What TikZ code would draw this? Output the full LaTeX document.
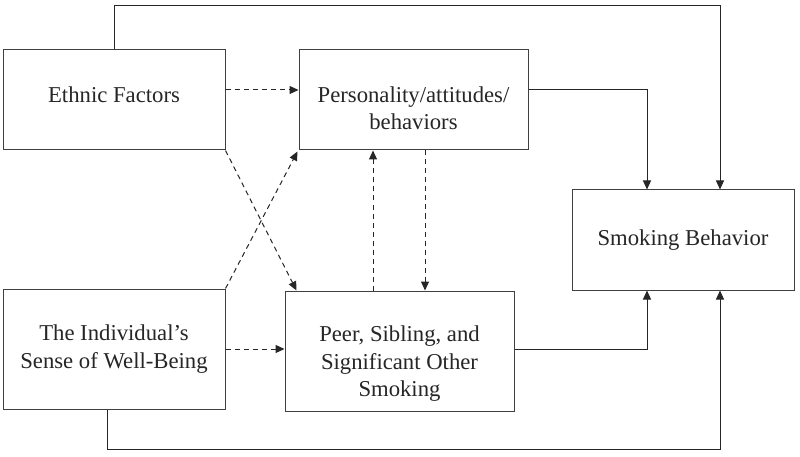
\documentclass[tikz,border=0pt]{standalone}
\usepackage{fontspec}
\setmainfont{Liberation Serif}
\usetikzlibrary{arrows.meta,calc}
\begin{document}
\begin{tikzpicture}[x=1pt,y=-1pt,
  box/.style={draw=black!75, line width=1pt, rectangle, inner sep=0pt},
  txt/.style={align=center, inner sep=0pt, font=\fontsize{22.7}{27.5}\selectfont, text=black!85},
  solidarrow/.style={draw=black!85, line width=1pt, -{Triangle[length=9pt,width=8pt]}},
  dasharrow/.style={solidarrow, dash pattern=on 5pt off 4pt}]
\useasboundingbox (0,0) rectangle (800,457);
\fill[white] (0,0) rectangle (800,457);
% boxes
\node[box, minimum width=222pt, minimum height=100pt] (eth) at (114,100) {};
\node[box, minimum width=229pt, minimum height=100pt] (per) at (413.5,100) {};
\node[box, minimum width=222pt, minimum height=100pt] (smk) at (683,240) {};
\node[box, minimum width=222pt, minimum height=120pt] (ind) at (114,349) {};
\node[box, minimum width=229pt, minimum height=120pt] (peer) at (399.5,351) {};
% texts
\node[txt] (ethT) at (114,95) {Ethnic Factors};
\node[txt] (perT) at (413.5,108) {Personality/attitudes/\\behaviors};
\node[txt] (smkT) at (683,240) {Smoking Behavior};
\node[txt] (indT) at (114,349) {The Individual's\\Sense of Well-Being};
\node[txt] (peerT) at (399.5,364) {Peer, Sibling, and\\Significant Other\\Smoking};
% solid connectors
\draw[solidarrow] (eth.north) -- ++(0,-44) -| ([xshift=37pt]smk.north);
\draw[solidarrow] ([yshift=10pt]per.east) -| ([xshift=-36pt]smk.north);
\draw[solidarrow] ([yshift=2pt]peer.east) -| ([xshift=-36pt]smk.south);
\draw[solidarrow] ([xshift=-7pt]ind.south) -- ++(0,40) -| ([xshift=37pt]smk.south);
% dashed connectors
\draw[dasharrow] ([yshift=10pt]eth.east) -- ([yshift=10pt]per.west);
\draw[dasharrow] (ind.east) -- (ind.east -| peer.west);
\draw[dasharrow] (eth.south east) -- ([xshift=12pt]peer.north west);
\draw[dasharrow] (ind.north east) -- ([xshift=-1pt,yshift=-1pt]per.south west);
\draw[dasharrow] ([xshift=-26.5pt]peer.north) -- ([xshift=-26.5pt]peer.north |- per.south);
\draw[dasharrow] ([xshift=11.5pt]per.south) -- ([xshift=11.5pt]per.south |- peer.north);
\end{tikzpicture}
\end{document}
